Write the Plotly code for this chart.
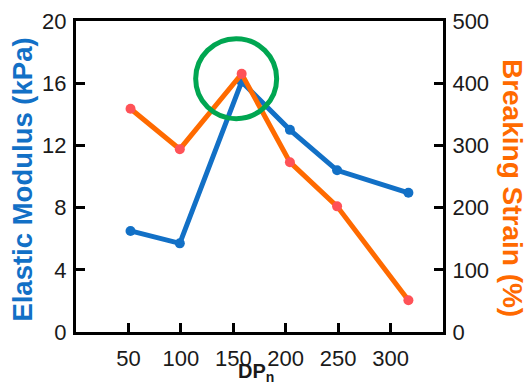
import plotly.graph_objects as go

dp = [52, 99, 158, 204, 249, 317]
modulus_kpa = [6.5, 5.7, 16.1, 13.0, 10.4, 8.95]
breaking_strain = [359, 294, 415, 273, 202, 51]

x_ticks = [50, 100, 150, 200, 250, 300]
y1_ticks = [0, 4, 8, 12, 16, 20]
y2_ticks = [0, 100, 200, 300, 400, 500]

BLUE = "#1270C6"
ORANGE = "#FF6A00"
RED = "#FF5257"
GREEN = "#00A651"
FONT = "Liberation Sans, Arial, sans-serif"

fig = go.Figure()
fig.add_trace(go.Scatter(
    x=dp, y=breaking_strain, yaxis="y2", mode="lines+markers",
    line=dict(color=ORANGE, width=5),
    marker=dict(color=RED, size=10),
    showlegend=False, hoverinfo="skip"))
fig.add_trace(go.Scatter(
    x=dp, y=modulus_kpa, mode="lines+markers",
    line=dict(color=BLUE, width=5),
    marker=dict(color=BLUE, size=10),
    showlegend=False, hoverinfo="skip"))

peak = modulus_kpa.index(max(modulus_kpa))
fig.add_shape(type="circle", xref="x", yref="y",
              xsizemode="pixel", ysizemode="pixel",
              xanchor=dp[peak], yanchor=modulus_kpa[peak],
              x0=-46, x1=35, y0=-37, y1=43,
              line=dict(color=GREEN, width=5))

axis_common = dict(showline=True, linecolor="black", linewidth=3,
                   ticks="inside", ticklen=9, tickwidth=3, tickcolor="black",
                   showgrid=False, zeroline=False, automargin=False,
                   tickfont=dict(family=FONT, size=22, color="#1a1a1a"))

fig.update_layout(
    width=528, height=387,
    margin=dict(l=76, r=85, t=21, b=55),
    plot_bgcolor="white", paper_bgcolor="white",
    font=dict(family=FONT),
    xaxis=dict(range=[0, 350], tickvals=x_ticks, mirror=True,
               ticklabelstandoff=5, **axis_common),
    yaxis=dict(range=[0, 20], tickvals=y1_ticks, ticklabelstandoff=2, **axis_common),
    yaxis2=dict(range=[0, 500], tickvals=y2_ticks, overlaying="y", side="right",
                ticklabelstandoff=2, **axis_common),
    annotations=[
        dict(text="<b>DP<sub>n</sub></b>", xref="paper", yref="paper",
             x=0.49, y=-0.13, xanchor="center", yanchor="middle",
             showarrow=False, font=dict(family=FONT, size=20, color="#1a1a1a")),
        dict(text="<b>Elastic Modulus (kPa)</b>", xref="paper", yref="paper",
             x=-0.1444, y=0.49, xanchor="center", yanchor="middle", textangle=-90,
             showarrow=False, font=dict(family=FONT, size=27.5, color=BLUE)),
        dict(text="<b>Breaking Strain (%)</b>", xref="paper", yref="paper",
             x=1.191, y=0.463, xanchor="center", yanchor="middle", textangle=90,
             showarrow=False, font=dict(family=FONT, size=28, color=ORANGE)),
    ],
)
fig.write_html("out.html", config={"displayModeBar": False},
               post_script="document.body.style.margin='0';document.body.style.overflow='hidden';")
